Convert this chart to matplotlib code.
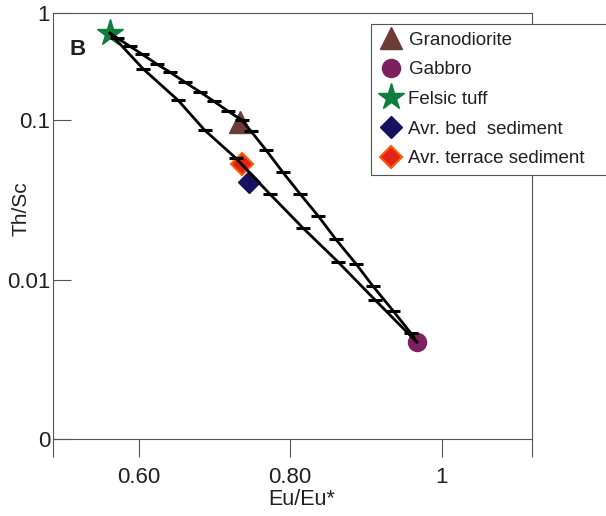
import numpy as np
import matplotlib
matplotlib.use("Agg")
import matplotlib.pyplot as plt
from matplotlib.ticker import FixedLocator, NullLocator

plt.rcParams['font.family'] = ['Liberation Sans', 'DejaVu Sans']

# samples (Eu/Eu*, Th/Sc)
names = ["Granodiorite", "Gabbro", "Felsic tuff", "Avr. bed  sediment",
         "Avr. terrace sediment"]
eu = [0.734, 0.967, 0.562, 0.745, 0.737]
thsc = [0.097, 0.00405, 0.649, 0.041, 0.0527]

# mixing increments, felsic tuff -> granodiorite -> gabbro
upper_x = [0.572, 0.588, 0.604, 0.624, 0.641, 0.661, 0.681, 0.699, 0.718,
           0.736, 0.748, 0.768, 0.790, 0.813, 0.837, 0.860, 0.887, 0.909,
           0.936, 0.959]
upper_y = [0.583, 0.491, 0.414, 0.333, 0.281, 0.226, 0.183, 0.150, 0.121,
           0.100, 0.0853, 0.0649, 0.0472, 0.0344, 0.0250, 0.0179, 0.0125,
           0.0091, 0.00634, 0.00462]

# mixing increments, felsic tuff -> gabbro
lower_x = [0.606, 0.652, 0.687, 0.728, 0.773, 0.817, 0.863, 0.912]
lower_y = [0.300, 0.153, 0.0865, 0.0578, 0.0344, 0.0210, 0.0129, 0.00744]

xticks = [0.60, 0.80, 1.0]
xticklabels = ["0.60", "0.80", "1"]
yticks = [0.001, 0.01, 0.1, 1]
yticklabels = ["0", "0.01", "0.1", "1"]

# marker styles, same order as names
styles = [
    dict(marker="^", ms=16, color="#6b3d38", mec="#6b3d38"),
    dict(marker="o", ms=13, color="#7e1f5f", mec="#7e1f5f"),
    dict(marker="*", ms=20, color="#0f7d3c", mec="#0f7d3c"),
    dict(marker="D", ms=11.5, color="#15135f", mec="#15135f"),
    dict(marker="D", ms=11, color="#e2231a", mec="#ff5a00", mew=1.5),
]

K = 0.671  # top decade is squeezed in the original drawing


def fwd(y):
    y = np.asarray(y, dtype=float)
    with np.errstate(divide="ignore", invalid="ignore"):
        l = np.log10(np.where(y > 0, y, 1e-300))
    return np.where(l > -1, -1 + (l + 1) * K, l)


def inv(t):
    t = np.asarray(t, dtype=float)
    return np.where(t > -1, 10 ** (-1 + (t + 1) / K), 10 ** t)


fig = plt.figure(figsize=(6.06, 5.16), dpi=100)
ax = fig.add_axes([0.0875, 0.1492, 0.7904, 0.8256])
ax.set_yscale("function", functions=(fwd, inv))
xmin, xmax = 0.487, 1.119
ax.set_xlim(xmin, xmax)
ax.set_ylim(0.001, 1)

for name, x, y, st in zip(names, eu, thsc, styles):
    ax.plot([x], [y], ls="none", label=name, zorder=2, **st)

# felsic tuff index 2, gabbro index 1
ux = [eu[2]] + upper_x + [eu[1]]
uy = [thsc[2]] + upper_y + [thsc[1]]
lx = [eu[2]] + lower_x + [eu[1]]
ly = [thsc[2]] + lower_y + [thsc[1]]
ax.plot(ux, uy, color="black", lw=2.0, zorder=3)
ax.plot(lx, ly, color="black", lw=2.0, zorder=3)
ax.plot(upper_x, upper_y, ls="none", marker="_", ms=10, mew=2.2,
        color="black", zorder=4)
ax.plot(lower_x, lower_y, ls="none", marker="_", ms=10, mew=2.2,
        color="black", zorder=4)

ax.xaxis.set_major_locator(FixedLocator([xmin] + xticks + [xmax]))
ax.set_xticklabels([""] + xticklabels + [""])
ax.yaxis.set_major_locator(FixedLocator(yticks))
ax.yaxis.set_minor_locator(NullLocator())
ax.set_yticklabels(yticklabels)

for sp in ax.spines.values():
    sp.set_color("#555555")
    sp.set_linewidth(0.8)
ax.tick_params(axis="y", direction="in", length=13, width=0.8,
               color="#555555", labelsize=16, pad=2, labelcolor="#231f20")
ax.tick_params(axis="x", direction="out", length=13, width=0.8,
               color="#555555", labelsize=16, pad=7, labelcolor="#231f20")

ax.set_xlabel("Eu/Eu*", fontsize=15.5, color="#231f20")
ax.xaxis.set_label_coords(0.518, -0.118)
ax.set_ylabel("Th/Sc", fontsize=15, color="#231f20")
ax.yaxis.set_label_coords(-0.048, 0.54)

ax.text(0.035, 0.915, "B", transform=ax.transAxes, fontsize=16,
        fontweight="bold", color="#231f20", va="center", ha="left")

leg = ax.legend(loc="upper left", bbox_to_anchor=(371 / 606, 0, 0.5, 1 - 24 / 516),
                bbox_transform=fig.transFigure, mode="expand", borderaxespad=0,
                fontsize=13.5, handlelength=1.3, handletextpad=0.3,
                labelspacing=0.67, borderpad=0.4, fancybox=False,
                framealpha=1, edgecolor="#555555")
leg.get_frame().set_linewidth(0.8)
for t in leg.get_texts():
    t.set_color("#231f20")

fig.savefig("out.png", dpi=100)
